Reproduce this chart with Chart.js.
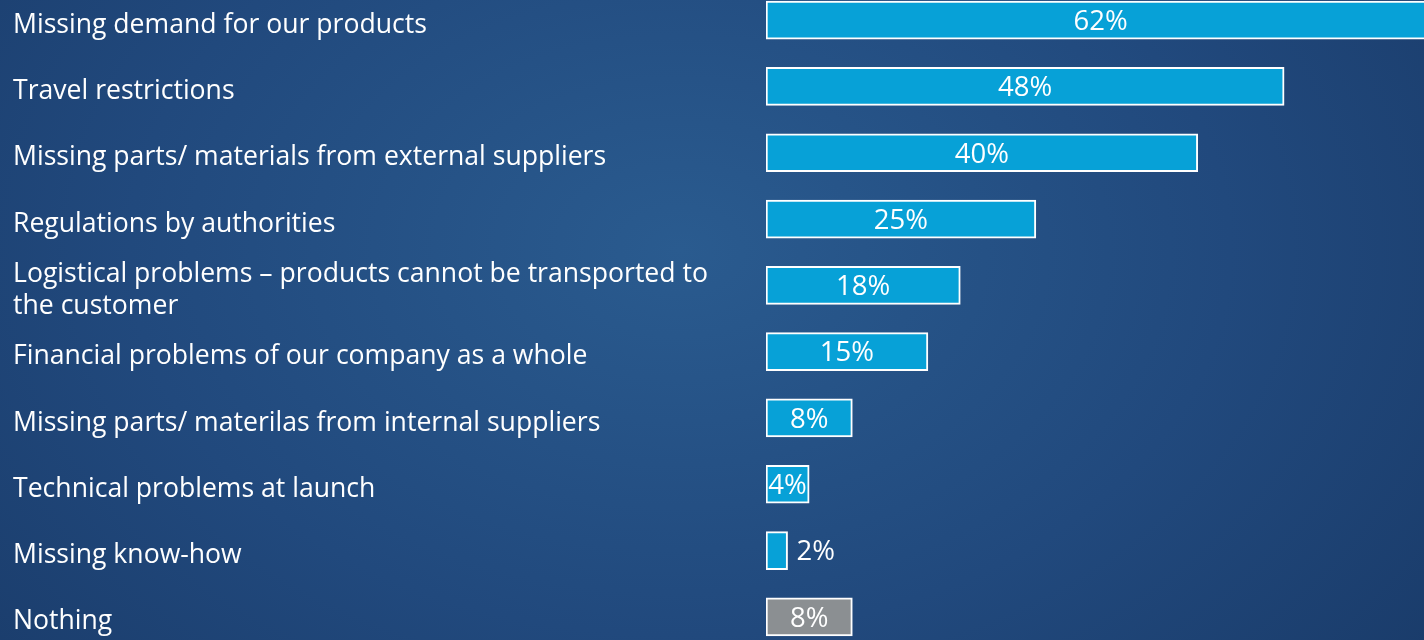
<!DOCTYPE html>
<html>
<head>
<meta charset="utf-8">
<script src="https://cdn.jsdelivr.net/npm/chart.js@4"></script>
<style>
  html, body {
    margin: 0;
    width: 1424px;
    height: 640px;
    overflow: hidden;
    background: radial-gradient(ellipse 1000px 700px at 680px 250px, #2a5b8f 0%, #21497d 55%, #193a68 100%);
  }
  #wrap {
    position: absolute;
    left: 0;
    top: -13px;
    width: 1500px;
    height: 663px;
  }
</style>
</head>
<body>
<div id="wrap"><canvas id="reasonsChart"></canvas></div>
<script>
// Reasons and share of answers (%)
const categories = [
  "Missing demand for our products",
  "Travel restrictions",
  "Missing parts/ materials from external suppliers",
  "Regulations by authorities",
  ["Logistical problems \u2013 products cannot be transported to", "the customer"],
  "Financial problems of our company as a whole",
  "Missing parts/ materilas from internal suppliers",
  "Technical problems at launch",
  "Missing know-how",
  "Nothing",
]
const shares = [62, 48, 40, 25, 18, 15, 8, 4, 2, 8]
const barColors = ["#07a1d7", "#07a1d7", "#07a1d7", "#07a1d7", "#07a1d7", "#07a1d7", "#07a1d7", "#07a1d7", "#07a1d7", "#8b8f92"]

const FONT = "'Open Sans', 'Noto Sans', sans-serif"

// Percent labels on the bars, outside when the bar is too narrow
const valueLabels = {
  id: "valueLabels",
  afterDatasetsDraw(chart) {
    const ctx = chart.ctx
    const meta = chart.getDatasetMeta(0)
    ctx.save()
    ctx.font = "27.5px " + FONT
    ctx.fillStyle = "#ffffff"
    ctx.textBaseline = "middle"
    meta.data.forEach((bar, i) => {
      const text = shares[i] + "%"
      const w = bar.x - bar.base
      if (w < 30) {
        ctx.textAlign = "left"
        ctx.fillText(text, bar.x + 9, bar.y + 2)
      } else {
        ctx.textAlign = "center"
        ctx.fillText(text, (bar.x + bar.base) / 2, bar.y + 2)
      }
    })
    ctx.restore()
  },
}

const chart = new Chart(document.getElementById("reasonsChart"), {
  type: "bar",
  data: {
    labels: categories,
    datasets: [
      {
        data: shares,
        backgroundColor: barColors,
        borderColor: "#ffffff",
        borderWidth: 2,
        borderSkipped: false,
        barThickness: 38,
      },
    ],
  },
  options: {
    indexAxis: "y",
    responsive: true,
    maintainAspectRatio: false,
    animation: false,
    layout: { padding: { left: 13, top: 0, right: 0, bottom: 0 } },
    plugins: {
      legend: { display: false },
      tooltip: { enabled: false },
    },
    scales: {
      x: {
        display: false,
        min: 0,
        max: 68,
      },
      y: {
        grid: { display: false },
        border: { display: false },
        ticks: {
          autoSkip: false,
          crossAlign: "far",
          padding: 0,
          labelOffset: 5,
          color: "#ffffff",
          font: { family: FONT, size: 26.6, lineHeight: 1.2 },
        },
        afterFit: (scale) => {
          scale.width = 753
          scale.paddingTop = 0
          scale.paddingBottom = 0
        },
      },
    },
  },
  plugins: [valueLabels],
})
</script>
</body>
</html>
